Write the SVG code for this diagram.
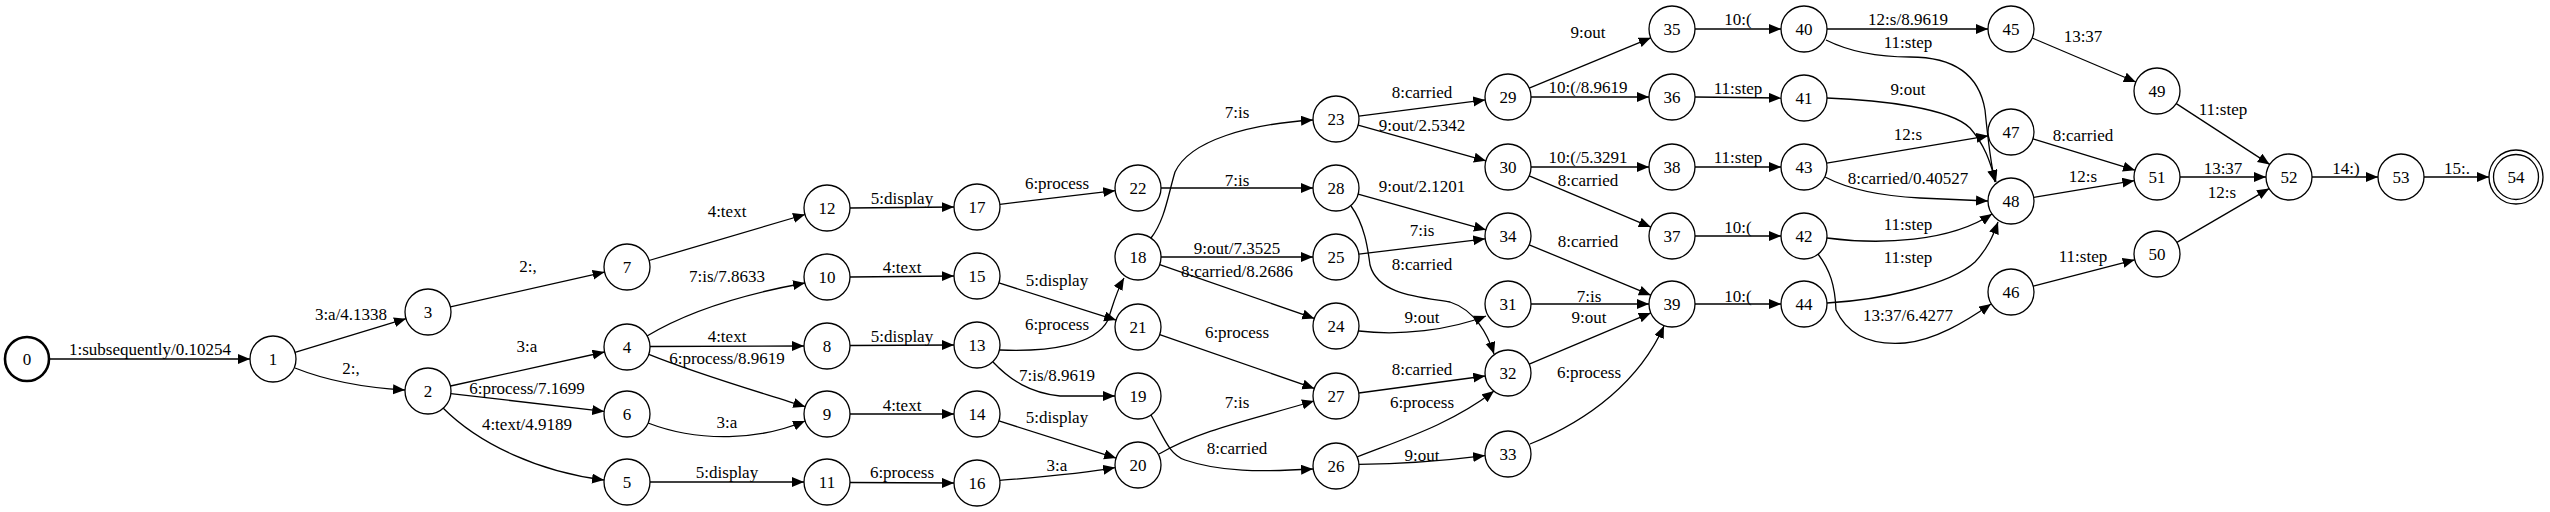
<svg xmlns="http://www.w3.org/2000/svg" width="2550" height="512" viewBox="0 0 2550 512">
<style>
.n circle{fill:#fff;stroke:#000;stroke-width:1.3}
.n text,.l{font-family:"Liberation Serif","Times New Roman",serif;font-size:17px;text-anchor:middle;fill:#000}
.e path{fill:none;stroke:#000;stroke-width:1.3;marker-end:url(#ah)}
.start circle{stroke-width:2.6}
</style>
<defs>
<marker id="ah" markerUnits="userSpaceOnUse" markerWidth="13" markerHeight="11" refX="12" refY="5" orient="auto">
<path d="M0,0 L12,5 L0,10 z" fill="#000"/>
</marker>
</defs>
<rect width="2550" height="512" fill="#fff"/>
<g id="edges" class="e">
<path d="M50,359 L250,359"/>
<path d="M295,352.3 L406,318.7"/>
<path d="M295,368 C330,382 370,388 405,390"/>
<path d="M450.4,306.9 L604.6,272.1"/>
<path d="M649,260.5 L805,214.5"/>
<path d="M450.5,386 L604.5,352"/>
<path d="M450.8,393.6 L604.2,411.4"/>
<path d="M443,408 C480,445 540,472 604,480"/>
<path d="M647,336 C690,310 750,293 805,283"/>
<path d="M650,346.5 L804,346"/>
<path d="M648.8,354.3 C700,375 760,392 805.2,406.7"/>
<path d="M648,423 C700,443 760,440 805,421"/>
<path d="M650,482 L804,482"/>
<path d="M850,208 L954,207"/>
<path d="M999.8,204.3 L1115.2,190.7"/>
<path d="M850,277 L954,276"/>
<path d="M998.9,282.9 L1116.1,320.1"/>
<path d="M850,345.5 L954,345"/>
<path d="M1000,350 C1050,352 1095,345 1108,320 C1113,305 1116,292 1124,278"/>
<path d="M993,362 C1010,380 1030,393 1060,396 L1115,396"/>
<path d="M850,414 L954,414"/>
<path d="M998.9,420.9 L1116.1,458.1"/>
<path d="M850,482.5 L954,483"/>
<path d="M999.9,480.4 C1040,477 1080,474 1115.1,467.6"/>
<path d="M1151,238 C1165,220 1168,195 1175,172 C1190,140 1250,124 1313,120"/>
<path d="M1161,188 L1313,188"/>
<path d="M1358.8,116.1 L1485.2,99.9"/>
<path d="M1358.1,125.2 L1485.9,160.8"/>
<path d="M1358.1,194.2 L1485.9,229.8"/>
<path d="M1161,257 L1313,257"/>
<path d="M1358.8,254.2 L1485.2,238.8"/>
<path d="M1351,206 C1365,225 1368,250 1370,265 C1378,295 1420,297 1450,302 C1475,310 1488,335 1494,354"/>
<path d="M1159.7,264.6 L1314.3,318.4"/>
<path d="M1359,331 C1400,336 1450,330 1486,316"/>
<path d="M1159.7,334.6 L1314.3,388.4"/>
<path d="M1358.8,393 L1485.2,376"/>
<path d="M1357,457 C1400,440 1450,425 1494,391"/>
<path d="M1151,415 C1165,440 1170,455 1185,460 C1220,472 1260,472 1313,469"/>
<path d="M1159,454 C1200,430 1250,420 1314,401"/>
<path d="M1359,464.4 C1400,464 1450,460 1485,455.6"/>
<path d="M1529.2,88.2 L1650.8,37.8"/>
<path d="M1531,97 L1649,97"/>
<path d="M1695,29 L1781,29"/>
<path d="M1695,97 L1781,98"/>
<path d="M1531,167 L1649,167"/>
<path d="M1529.2,175.9 L1650.8,227.1"/>
<path d="M1695,167 L1781,167"/>
<path d="M1695,236 L1781,236"/>
<path d="M1529.2,244.8 L1650.8,295.2"/>
<path d="M1531,304 L1649,304"/>
<path d="M1529.2,364.1 L1650.8,312.9"/>
<path d="M1530,444 C1590,420 1640,380 1664,326"/>
<path d="M1695,304 L1781,304"/>
<path d="M1827,29 L1988,29"/>
<path d="M1826,40 C1850,52 1880,57 1910,57 C1960,57 1980,80 1985,110 C1988,140 1990,160 1995,182"/>
<path d="M1827,98 C1880,100 1950,108 1970,128 C1985,145 1990,162 1996,182"/>
<path d="M1826.7,163.2 L1988.3,135.8"/>
<path d="M1825,177 C1850,190 1880,196 1920,198 L1988,201"/>
<path d="M1827,238 C1880,245 1950,242 1992,214"/>
<path d="M1827,303 C1880,300 1950,285 1975,262 C1988,248 1993,236 1998,222"/>
<path d="M1818,254 C1830,270 1835,285 1836,310 C1850,340 1880,345 1905,343 C1935,340 1965,322 1991,304"/>
<path d="M2032.2,38 L2135.8,82"/>
<path d="M2033,138.8 L2135,170.2"/>
<path d="M2033.7,197.3 L2134.3,180.7"/>
<path d="M2033.3,286.2 L2134.7,259.8"/>
<path d="M2176.3,103.6 L2269.7,164.4"/>
<path d="M2180,177 L2266,177"/>
<path d="M2176.9,242.4 L2269.1,188.6"/>
<path d="M2312,177 L2378,177"/>
<path d="M2424,177 L2489,177"/>
</g>
<g id="edge-labels" class="l">
<text class="l" x="150" y="355">1:subsequently/0.10254</text>
<text class="l" x="351" y="320">3:a/4.1338</text>
<text class="l" x="351" y="374">2:,</text>
<text class="l" x="528" y="272">2:,</text>
<text class="l" x="727" y="217">4:text</text>
<text class="l" x="527" y="352">3:a</text>
<text class="l" x="527" y="394">6:process/7.1699</text>
<text class="l" x="527" y="430">4:text/4.9189</text>
<text class="l" x="727" y="282">7:is/7.8633</text>
<text class="l" x="727" y="342">4:text</text>
<text class="l" x="727" y="364">6:process/8.9619</text>
<text class="l" x="727" y="428">3:a</text>
<text class="l" x="727" y="478">5:display</text>
<text class="l" x="902" y="204">5:display</text>
<text class="l" x="1057" y="189">6:process</text>
<text class="l" x="902" y="273">4:text</text>
<text class="l" x="1057" y="286">5:display</text>
<text class="l" x="902" y="342">5:display</text>
<text class="l" x="1057" y="330">6:process</text>
<text class="l" x="1057" y="381">7:is/8.9619</text>
<text class="l" x="902" y="411">4:text</text>
<text class="l" x="1057" y="423">5:display</text>
<text class="l" x="902" y="478">6:process</text>
<text class="l" x="1057" y="471">3:a</text>
<text class="l" x="1237" y="118">7:is</text>
<text class="l" x="1237" y="186">7:is</text>
<text class="l" x="1422" y="98">8:carried</text>
<text class="l" x="1422" y="131">9:out/2.5342</text>
<text class="l" x="1422" y="192">9:out/2.1201</text>
<text class="l" x="1237" y="254">9:out/7.3525</text>
<text class="l" x="1422" y="236">7:is</text>
<text class="l" x="1422" y="270">8:carried</text>
<text class="l" x="1237" y="277">8:carried/8.2686</text>
<text class="l" x="1422" y="323">9:out</text>
<text class="l" x="1237" y="338">6:process</text>
<text class="l" x="1422" y="375">8:carried</text>
<text class="l" x="1422" y="408">6:process</text>
<text class="l" x="1237" y="454">8:carried</text>
<text class="l" x="1237" y="408">7:is</text>
<text class="l" x="1422" y="461">9:out</text>
<text class="l" x="1588" y="38">9:out</text>
<text class="l" x="1588" y="93">10:(/8.9619</text>
<text class="l" x="1738" y="25">10:(</text>
<text class="l" x="1738" y="94">11:step</text>
<text class="l" x="1588" y="163">10:(/5.3291</text>
<text class="l" x="1588" y="186">8:carried</text>
<text class="l" x="1738" y="163">11:step</text>
<text class="l" x="1738" y="233">10:(</text>
<text class="l" x="1588" y="247">8:carried</text>
<text class="l" x="1589" y="302">7:is</text>
<text class="l" x="1589" y="323">9:out</text>
<text class="l" x="1589" y="378">6:process</text>
<text class="l" x="1738" y="302">10:(</text>
<text class="l" x="1908" y="25">12:s/8.9619</text>
<text class="l" x="1908" y="48">11:step</text>
<text class="l" x="1908" y="95">9:out</text>
<text class="l" x="1908" y="140">12:s</text>
<text class="l" x="1908" y="184">8:carried/0.40527</text>
<text class="l" x="1908" y="230">11:step</text>
<text class="l" x="1908" y="263">11:step</text>
<text class="l" x="1908" y="321">13:37/6.4277</text>
<text class="l" x="2083" y="42">13:37</text>
<text class="l" x="2083" y="141">8:carried</text>
<text class="l" x="2083" y="182">12:s</text>
<text class="l" x="2083" y="262">11:step</text>
<text class="l" x="2223" y="115">11:step</text>
<text class="l" x="2223" y="174">13:37</text>
<text class="l" x="2222" y="198">12:s</text>
<text class="l" x="2346" y="174">14:)</text>
<text class="l" x="2457" y="174">15:.</text>
</g>
<g id="n0" class="n start"><circle cx="27" cy="359" r="22"/><text x="27" y="365">0</text></g>
<g id="n1" class="n"><circle cx="273" cy="359" r="23"/><text x="273" y="365">1</text></g>
<g id="n2" class="n"><circle cx="428" cy="391" r="23"/><text x="428" y="397">2</text></g>
<g id="n3" class="n"><circle cx="428" cy="312" r="23"/><text x="428" y="318">3</text></g>
<g id="n4" class="n"><circle cx="627" cy="347" r="23"/><text x="627" y="353">4</text></g>
<g id="n5" class="n"><circle cx="627" cy="482" r="23"/><text x="627" y="488">5</text></g>
<g id="n6" class="n"><circle cx="627" cy="414" r="23"/><text x="627" y="420">6</text></g>
<g id="n7" class="n"><circle cx="627" cy="267" r="23"/><text x="627" y="273">7</text></g>
<g id="n8" class="n"><circle cx="827" cy="346" r="23"/><text x="827" y="352">8</text></g>
<g id="n9" class="n"><circle cx="827" cy="414" r="23"/><text x="827" y="420">9</text></g>
<g id="n10" class="n"><circle cx="827" cy="277" r="23"/><text x="827" y="283">10</text></g>
<g id="n11" class="n"><circle cx="827" cy="482" r="23"/><text x="827" y="488">11</text></g>
<g id="n12" class="n"><circle cx="827" cy="208" r="23"/><text x="827" y="214">12</text></g>
<g id="n13" class="n"><circle cx="977" cy="345" r="23"/><text x="977" y="351">13</text></g>
<g id="n14" class="n"><circle cx="977" cy="414" r="23"/><text x="977" y="420">14</text></g>
<g id="n15" class="n"><circle cx="977" cy="276" r="23"/><text x="977" y="282">15</text></g>
<g id="n16" class="n"><circle cx="977" cy="483" r="23"/><text x="977" y="489">16</text></g>
<g id="n17" class="n"><circle cx="977" cy="207" r="23"/><text x="977" y="213">17</text></g>
<g id="n18" class="n"><circle cx="1138" cy="257" r="23"/><text x="1138" y="263">18</text></g>
<g id="n19" class="n"><circle cx="1138" cy="396" r="23"/><text x="1138" y="402">19</text></g>
<g id="n20" class="n"><circle cx="1138" cy="465" r="23"/><text x="1138" y="471">20</text></g>
<g id="n21" class="n"><circle cx="1138" cy="327" r="23"/><text x="1138" y="333">21</text></g>
<g id="n22" class="n"><circle cx="1138" cy="188" r="23"/><text x="1138" y="194">22</text></g>
<g id="n23" class="n"><circle cx="1336" cy="119" r="23"/><text x="1336" y="125">23</text></g>
<g id="n24" class="n"><circle cx="1336" cy="326" r="23"/><text x="1336" y="332">24</text></g>
<g id="n25" class="n"><circle cx="1336" cy="257" r="23"/><text x="1336" y="263">25</text></g>
<g id="n26" class="n"><circle cx="1336" cy="466" r="23"/><text x="1336" y="472">26</text></g>
<g id="n27" class="n"><circle cx="1336" cy="396" r="23"/><text x="1336" y="402">27</text></g>
<g id="n28" class="n"><circle cx="1336" cy="188" r="23"/><text x="1336" y="194">28</text></g>
<g id="n29" class="n"><circle cx="1508" cy="97" r="23"/><text x="1508" y="103">29</text></g>
<g id="n30" class="n"><circle cx="1508" cy="167" r="23"/><text x="1508" y="173">30</text></g>
<g id="n31" class="n"><circle cx="1508" cy="304" r="23"/><text x="1508" y="310">31</text></g>
<g id="n32" class="n"><circle cx="1508" cy="373" r="23"/><text x="1508" y="379">32</text></g>
<g id="n33" class="n"><circle cx="1508" cy="454" r="23"/><text x="1508" y="460">33</text></g>
<g id="n34" class="n"><circle cx="1508" cy="236" r="23"/><text x="1508" y="242">34</text></g>
<g id="n35" class="n"><circle cx="1672" cy="29" r="23"/><text x="1672" y="35">35</text></g>
<g id="n36" class="n"><circle cx="1672" cy="97" r="23"/><text x="1672" y="103">36</text></g>
<g id="n37" class="n"><circle cx="1672" cy="236" r="23"/><text x="1672" y="242">37</text></g>
<g id="n38" class="n"><circle cx="1672" cy="167" r="23"/><text x="1672" y="173">38</text></g>
<g id="n39" class="n"><circle cx="1672" cy="304" r="23"/><text x="1672" y="310">39</text></g>
<g id="n40" class="n"><circle cx="1804" cy="29" r="23"/><text x="1804" y="35">40</text></g>
<g id="n41" class="n"><circle cx="1804" cy="98" r="23"/><text x="1804" y="104">41</text></g>
<g id="n42" class="n"><circle cx="1804" cy="236" r="23"/><text x="1804" y="242">42</text></g>
<g id="n43" class="n"><circle cx="1804" cy="167" r="23"/><text x="1804" y="173">43</text></g>
<g id="n44" class="n"><circle cx="1804" cy="304" r="23"/><text x="1804" y="310">44</text></g>
<g id="n45" class="n"><circle cx="2011" cy="29" r="23"/><text x="2011" y="35">45</text></g>
<g id="n46" class="n"><circle cx="2011" cy="292" r="23"/><text x="2011" y="298">46</text></g>
<g id="n47" class="n"><circle cx="2011" cy="132" r="23"/><text x="2011" y="138">47</text></g>
<g id="n48" class="n"><circle cx="2011" cy="201" r="23"/><text x="2011" y="207">48</text></g>
<g id="n49" class="n"><circle cx="2157" cy="91" r="23"/><text x="2157" y="97">49</text></g>
<g id="n50" class="n"><circle cx="2157" cy="254" r="23"/><text x="2157" y="260">50</text></g>
<g id="n51" class="n"><circle cx="2157" cy="177" r="23"/><text x="2157" y="183">51</text></g>
<g id="n52" class="n"><circle cx="2289" cy="177" r="23"/><text x="2289" y="183">52</text></g>
<g id="n53" class="n"><circle cx="2401" cy="177" r="23"/><text x="2401" y="183">53</text></g>
<g id="n54" class="n"><circle cx="2516" cy="177" r="27"/><circle cx="2516" cy="177" r="22.5"/><text x="2516" y="183">54</text></g>
</svg>
